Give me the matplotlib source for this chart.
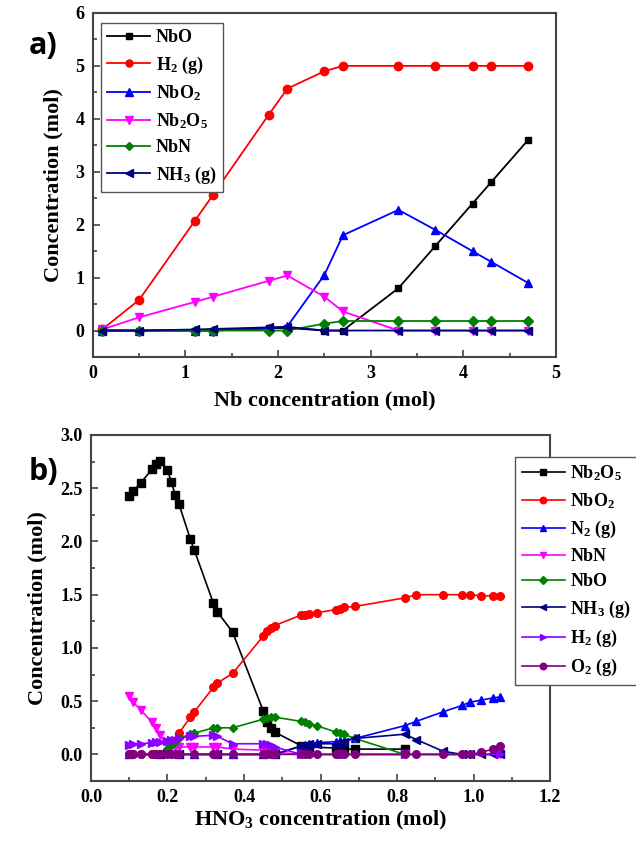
import numpy as np
import matplotlib
matplotlib.use('Agg')
import matplotlib.pyplot as plt
from matplotlib.ticker import MultipleLocator, FormatStrFormatter

plt.rcParams['font.family'] = 'Liberation Serif'
plt.rcParams['font.weight'] = 'bold'
plt.rcParams['mathtext.default'] = 'regular'

## Panel a data: Nb concentration sweep
nb_x = [0.1, 0.5, 1.1, 1.3, 1.9, 2.1, 2.5, 2.7, 3.3, 3.7, 4.1, 4.3, 4.7]
a_NbO = [0, 0, 0, 0, 0.04, 0.05, 0, 0, 0.8, 1.6, 2.4, 2.8, 3.6]
a_H2 = [0.02, 0.58, 2.07, 2.57, 4.08, 4.57, 4.9, 5.0, 5.0, 5.0, 5.0, 5.0, 5.0]
a_NbO2 = [0, 0, 0, 0, 0.04, 0.08, 1.05, 1.8, 2.28, 1.9, 1.5, 1.3, 0.9]
a_Nb2O5 = [0.02, 0.25, 0.54, 0.64, 0.94, 1.04, 0.64, 0.36, 0, 0, 0, 0, 0]
a_NbN = [0, 0, 0, 0, 0, 0, 0.13, 0.18, 0.18, 0.18, 0.18, 0.18, 0.18]
a_NH3 = [0, 0, 0.02, 0.03, 0.06, 0.07, 0, 0, 0, 0, 0, 0, 0]

## Panel b data: HNO3 concentration sweep
b_Nb2O5_x = [0.10, 0.11, 0.13, 0.16, 0.17, 0.18, 0.20, 0.21, 0.22, 0.23, 0.26, 0.27,
             0.32, 0.33, 0.37, 0.45, 0.46, 0.47, 0.48, 0.55, 0.56, 0.57, 0.64, 0.65,
             0.66, 0.69, 0.82]
b_Nb2O5 = [2.43, 2.47, 2.55, 2.68, 2.73, 2.76, 2.67, 2.56, 2.44, 2.35, 2.02, 1.92,
           1.42, 1.34, 1.15, 0.41, 0.30, 0.25, 0.21, 0.08, 0.07, 0.07, 0.06, 0.05,
           0.05, 0.05, 0.05]

b_NbO2_x = [0.10, 0.11, 0.13, 0.16, 0.17, 0.18, 0.23, 0.26, 0.27, 0.32, 0.33, 0.37,
            0.45, 0.46, 0.47, 0.48, 0.55, 0.56, 0.57, 0.59, 0.64, 0.65, 0.66, 0.69,
            0.82, 0.85, 0.92, 0.97, 0.99, 1.02, 1.05, 1.07]
b_NbO2 = [0, 0, 0, 0, 0, 0, 0.20, 0.35, 0.40, 0.63, 0.67, 0.76,
          1.11, 1.16, 1.19, 1.21, 1.31, 1.31, 1.32, 1.33, 1.36, 1.37, 1.38, 1.39,
          1.47, 1.50, 1.50, 1.50, 1.50, 1.49, 1.49, 1.49]

b_N2_x = [0.10, 0.18, 0.23, 0.27, 0.33, 0.37, 0.45, 0.48, 0.55, 0.56, 0.57, 0.59,
          0.64, 0.65, 0.66, 0.69, 0.82, 0.85, 0.92, 0.97, 0.99, 1.02, 1.05, 1.07]
b_N2 = [0, 0, 0, 0, 0, 0, 0, 0, 0.08, 0.09, 0.10, 0.11,
        0.12, 0.13, 0.13, 0.15, 0.27, 0.31, 0.40, 0.46, 0.49, 0.51, 0.53, 0.54]

b_NbN_x = [0.10, 0.11, 0.13, 0.16, 0.17, 0.18, 0.20, 0.21, 0.22, 0.23, 0.26, 0.27,
           0.32, 0.33, 0.37, 0.45, 0.46, 0.47, 0.48, 0.55, 0.65, 0.82, 0.92, 1.07]
b_NbN = [0.55, 0.49, 0.42, 0.30, 0.25, 0.18, 0.10, 0.08, 0.07, 0.07, 0.07, 0.07,
         0.07, 0.07, 0.05, 0.04, 0.03, 0.02, 0.02, 0, 0, 0, 0, 0]

b_NbO_x = [0.18, 0.20, 0.21, 0.22, 0.23, 0.26, 0.27, 0.32, 0.33, 0.37, 0.45, 0.46,
           0.47, 0.48, 0.55, 0.56, 0.57, 0.59, 0.64, 0.65, 0.66, 0.69, 0.82]
b_NbO = [0, 0.05, 0.09, 0.12, 0.15, 0.19, 0.20, 0.25, 0.25, 0.25, 0.33, 0.34,
         0.35, 0.35, 0.31, 0.30, 0.29, 0.27, 0.21, 0.20, 0.19, 0.15, 0.0]

b_NH3_x = [0.10, 0.18, 0.23, 0.33, 0.45, 0.48, 0.55, 0.56, 0.57, 0.59, 0.64, 0.65,
           0.66, 0.69, 0.82, 0.85, 0.92, 0.97, 0.99, 1.02, 1.05, 1.07]
b_NH3 = [0, 0, 0, 0, 0, 0, 0.08, 0.09, 0.10, 0.10, 0.10, 0.11,
         0.12, 0.15, 0.19, 0.14, 0.03, 0, 0, 0, 0, 0]

b_H2_x = [0.10, 0.11, 0.13, 0.16, 0.17, 0.18, 0.20, 0.21, 0.22, 0.23, 0.26, 0.27,
          0.32, 0.33, 0.37, 0.45, 0.46, 0.47, 0.48, 0.55, 0.65, 0.82, 1.07]
b_H2 = [0.09, 0.10, 0.10, 0.11, 0.12, 0.12, 0.13, 0.14, 0.14, 0.15, 0.17, 0.17,
        0.18, 0.17, 0.10, 0.10, 0.10, 0.09, 0.07, 0, 0, 0, 0]

b_O2_x = [0.10, 0.11, 0.13, 0.16, 0.17, 0.18, 0.20, 0.21, 0.22, 0.23, 0.27, 0.32,
          0.33, 0.37, 0.45, 0.46, 0.47, 0.48, 0.55, 0.56, 0.57, 0.59, 0.64, 0.65,
          0.66, 0.69, 0.82, 0.85, 0.92, 0.97, 0.99, 1.02, 1.05, 1.07]
b_O2 = [0, 0, 0, 0, 0, 0, 0, 0, 0, 0, 0, 0,
        0, 0, 0, 0, 0, 0, 0, 0, 0, 0, 0, 0,
        0, 0, 0, 0, 0, 0, 0, 0.02, 0.05, 0.08]


def style_axes(ax):
    for s in ax.spines.values():
        s.set_color('#444444')
        s.set_linewidth(1.5)
    ax.tick_params(which='both', direction='in', top=False, right=False,
                   labelsize=13, color='#444444', width=1.2)
    ax.tick_params(which='major', length=5)
    ax.tick_params(which='minor', length=3)
    ax.tick_params(axis='y', pad=6)
    ax.tick_params(axis='x', pad=6)


def make_legend(ax, anchor):
    leg = ax.legend(loc='upper left', bbox_to_anchor=anchor, borderaxespad=0,
                    fontsize=13, frameon=True, fancybox=False, edgecolor='#555555',
                    handlelength=2.4, handletextpad=0.3, labelspacing=0.45,
                    borderpad=0.35, framealpha=1, markerscale=0.85)
    leg.get_frame().set_linewidth(1.0)
    return leg


fig = plt.figure(figsize=(6.36, 8.42), dpi=100)

############################## Panel a ##############################
ax1 = fig.add_axes([0.146, 0.576, 0.728, 0.4086])
ms = 6
ax1.plot(nb_x, a_NbO, '-s', color='black', ms=ms-1, lw=1.3, label='NbO')
ax1.plot(nb_x, a_H2, '-o', color='#FF0000', ms=ms, lw=1.3, label='H$_2$ (g)')
ax1.plot(nb_x, a_NbO2, '-^', color='#0000FF', ms=ms, lw=1.3, label='NbO$_2$')
ax1.plot(nb_x, a_Nb2O5, '-v', color='#FF00FF', ms=ms, lw=1.3, label='Nb$_2$O$_5$')
ax1.plot(nb_x, a_NbN, '-D', color='#008000', ms=ms-1, lw=1.3, label='NbN')
ax1.plot(nb_x, a_NH3, '-<', color='#000080', ms=ms, lw=1.3, label='NH$_3$ (g)')
ax1.set_xlim(0, 5)
ax1.set_ylim(-0.5, 6)
ax1.xaxis.set_major_locator(MultipleLocator(1))
ax1.xaxis.set_minor_locator(MultipleLocator(0.5))
ax1.yaxis.set_major_locator(MultipleLocator(1))
ax1.yaxis.set_minor_locator(MultipleLocator(0.5))
style_axes(ax1)
ax1.set_xlabel('Nb concentration (mol)', fontsize=16, fontweight='bold', labelpad=6)
ax1.set_ylabel('Concentration (mol)', fontsize=16, fontweight='bold', labelpad=9)
make_legend(ax1, (0.017, 0.971))

############################## Panel b ##############################
ax2 = fig.add_axes([0.143, 0.0724, 0.722, 0.411])
ms = 5.5
ax2.plot(b_Nb2O5_x, b_Nb2O5, '-s', color='black', ms=ms, lw=1.2, label='Nb$_2$O$_5$')
ax2.plot(b_NbO2_x, b_NbO2, '-o', color='#FF0000', ms=ms, lw=1.2, label='NbO$_2$')
ax2.plot(b_N2_x, b_N2, '-^', color='#0000FF', ms=ms, lw=1.2, label='N$_2$ (g)')
ax2.plot(b_NbN_x, b_NbN, '-v', color='#FF00FF', ms=ms, lw=1.2, label='NbN')
ax2.plot(b_NbO_x, b_NbO, '-D', color='#008000', ms=ms-1, lw=1.2, label='NbO')
ax2.plot(b_NH3_x, b_NH3, '-<', color='#000080', ms=ms, lw=1.2, label='NH$_3$ (g)')
ax2.plot(b_H2_x, b_H2, '->', color='#8B00FF', ms=ms, lw=1.2, label='H$_2$ (g)')
ax2.plot(b_O2_x, b_O2, '-o', color='#800080', ms=ms, lw=1.2, label='O$_2$ (g)')
ax2.set_xlim(0, 1.2)
ax2.set_ylim(-0.25, 3.0)
ax2.xaxis.set_major_locator(MultipleLocator(0.2))
ax2.xaxis.set_minor_locator(MultipleLocator(0.1))
ax2.yaxis.set_major_locator(MultipleLocator(0.5))
ax2.yaxis.set_minor_locator(MultipleLocator(0.25))
ax2.xaxis.set_major_formatter(FormatStrFormatter('%.1f'))
ax2.yaxis.set_major_formatter(FormatStrFormatter('%.1f'))
style_axes(ax2)
ax2.set_xlabel('HNO$_3$ concentration (mol)', fontsize=16, fontweight='bold', labelpad=2)
ax2.set_ylabel('Concentration (mol)', fontsize=16, fontweight='bold', labelpad=9)
make_legend(ax2, (0.924, 0.936))

## Panel letters
fig.text(0.045, 0.945, 'a)', fontsize=22, fontweight='bold', family='Open Sans',
         ha='left', va='center')
fig.text(0.045, 0.44, 'b)', fontsize=22, fontweight='bold', family='Open Sans',
         ha='left', va='center')

fig.savefig('out.png', dpi=100)
